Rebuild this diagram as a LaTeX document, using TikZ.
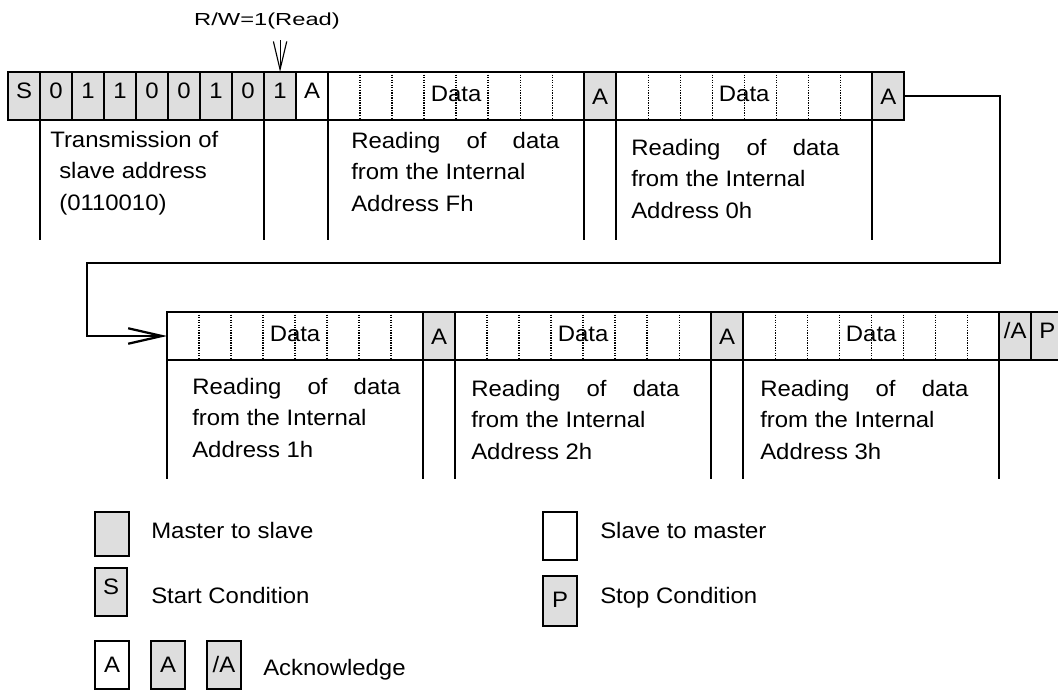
\documentclass[tikz,border=0pt]{standalone}
\usepackage{fontspec}
\setmainfont{Liberation Sans}[FakeStretch=1.07]
\newfontfamily\rwfont{Liberation Sans}[FakeStretch=1.36]
\usetikzlibrary{arrows.meta, positioning, calc}
\definecolor{cellGrey}{RGB}{222,222,222}
\newcommand{\readingtext}[1]{\makebox[5.2cm][s]{Reading of data}\\from the Internal\\Address #1}

\begin{document}
\begin{tikzpicture}[x=0.025cm, y=-0.025cm,
    font=\fontsize{15.9pt}{22.4pt}\selectfont,
    bitcell/.style={draw, line width=1.2pt, inner sep=0pt, outer sep=0pt, minimum width=0.8cm, minimum height=1.2cm, text height=0.72em, text depth=0pt},
    mcell/.style={bitcell, fill=cellGrey},
    scell/.style={bitcell, fill=white},
    datacell/.style={bitcell, minimum width=6.4cm},
    liftup/.style={text depth=0.3em},
    pushdown/.style={text height=1.15em},
    dots/.style={line width=0.9pt, dash pattern=on 0.9pt off 0.9pt},
    drop/.style={line width=1.1pt},
    note/.style={inner sep=0pt, align=left, anchor=north west},
    flow/.style={line width=1.6pt, -{Straight Barb[length=24pt, width=11pt]}},
    legendbox/.style={draw, line width=1.2pt, minimum width=0.85cm, minimum height=1.2cm, inner sep=0pt, outer sep=0pt, anchor=north west, text height=0.72em, text depth=0pt},
    legendtext/.style={anchor=base west, inner sep=0pt}
]
    \useasboundingbox (0,0) rectangle (1058,690);

    % First frame: address byte and two data bytes
    \node[mcell, liftup, anchor=north west] (start) at (8,72) {S};
    \node[mcell, liftup, right=0pt of start] (b1) {0};
    \node[mcell, liftup, right=0pt of b1] (b2) {1};
    \node[mcell, liftup, right=0pt of b2] (b3) {1};
    \node[mcell, liftup, right=0pt of b3] (b4) {0};
    \node[mcell, liftup, right=0pt of b4] (b5) {0};
    \node[mcell, liftup, right=0pt of b5] (b6) {1};
    \node[mcell, liftup, right=0pt of b6] (b7) {0};
    \node[mcell, liftup, right=0pt of b7] (b8) {1};
    \node[scell, liftup, right=0pt of b8] (ack0) {A};
    \node[datacell, right=0pt of ack0] (d1) {Data};
    \node[mcell, pushdown, right=0pt of d1] (ack1) {A};
    \node[datacell, right=0pt of ack1] (d2) {Data};
    \node[mcell, pushdown, right=0pt of d2] (ack2) {A};

    % Second frame: three more data bytes
    \node[datacell, anchor=north west] (d3) at (167,312) {Data};
    \node[mcell, pushdown, right=0pt of d3] (ack3) {A};
    \node[datacell, right=0pt of ack3] (d4) {Data};
    \node[mcell, pushdown, right=0pt of d4] (ack4) {A};
    \node[datacell, right=0pt of ack4] (d5) {Data};
    \node[mcell, liftup, right=0pt of d5] (nack) {/A};
    \node[mcell, liftup, right=0pt of nack] (stop) {P};

    % Bit separators inside the data bytes
    \foreach \d in {d1,d2,d3,d4,d5}
        \foreach \k in {1,...,7}
            \draw[dots] ($(\d.north west)!\k/8!(\d.north east)$) -- ($(\d.south west)!\k/8!(\d.south east)$);

    % Field boundaries
    \foreach \p in {b1.south west, b8.south west, d1.south west, d1.south east, d2.south west, d2.south east}
        \draw[drop] (\p) -- ++(0,120);
    \foreach \p in {d3.south west, d3.south east, d4.south west, d4.south east, d5.south west, d5.south east}
        \draw[drop] (\p) -- ++(0,119);

    % Field descriptions
    \node[note] (addrnote) at (50,131) {Transmission of\\\hspace*{0.225cm}slave address\\\hspace*{0.225cm}(0110010)};
    \node[note] (noteFh) at (351,132) {\readingtext{Fh}};
    \node[note] (note0h) at (631,139) {\readingtext{0h}};
    \node[note] (note1h) at (192,378) {\readingtext{1h}};
    \node[note] (note2h) at (471,380) {\readingtext{2h}};
    \node[note] (note3h) at (760,380) {\readingtext{3h}};

    % R/W bit
    \node[inner sep=0pt, font=\rwfont\fontsize{12.4pt}{14pt}\selectfont] (rw) at (267,21) {R/W=1(Read)};
    \draw[line width=0.8pt, -{Straight Barb[length=20pt, width=9.5pt]}] (rw.south -| b8.north) ++(0,11) -- (b8.north);

    % Continuation to the second frame
    \coordinate (turnR) at (1000,263);
    \coordinate (turnL) at (87,263);
    \draw[flow] (ack2.east) -| (turnR) -- (turnL) |- (d3.west);

    % Legend
    \node[legendbox, fill=cellGrey, minimum height=1.1cm] (mkey) at (95,512) {};
    \node[legendbox, fill=cellGrey, minimum width=0.8cm, liftup] (skey) at (95,568) {S};
    \node[legendbox, text height=1em] (akeyw) at (95,641) {A};
    \node[legendbox, fill=cellGrey, text height=1em] (akeyg) at (151,641) {A};
    \node[legendbox, fill=cellGrey, text height=1em] (nakey) at (207,641) {/A};
    \node[legendbox] (slkey) at (543,512) {};
    \node[legendbox, fill=cellGrey, minimum height=1.25cm, text height=0.95em] (pkey) at (543,576) {P};

    \node[legendtext] (mtext) at (151,538) {Master to slave};
    \node[legendtext] (stext) at (151,603) {Start Condition};
    \node[legendtext] (atext) at (263,675) {Acknowledge};
    \node[legendtext] (sltext) at (600,538) {Slave to master};
    \node[legendtext] (ptext) at (600,603) {Stop Condition};
\end{tikzpicture}
\end{document}
